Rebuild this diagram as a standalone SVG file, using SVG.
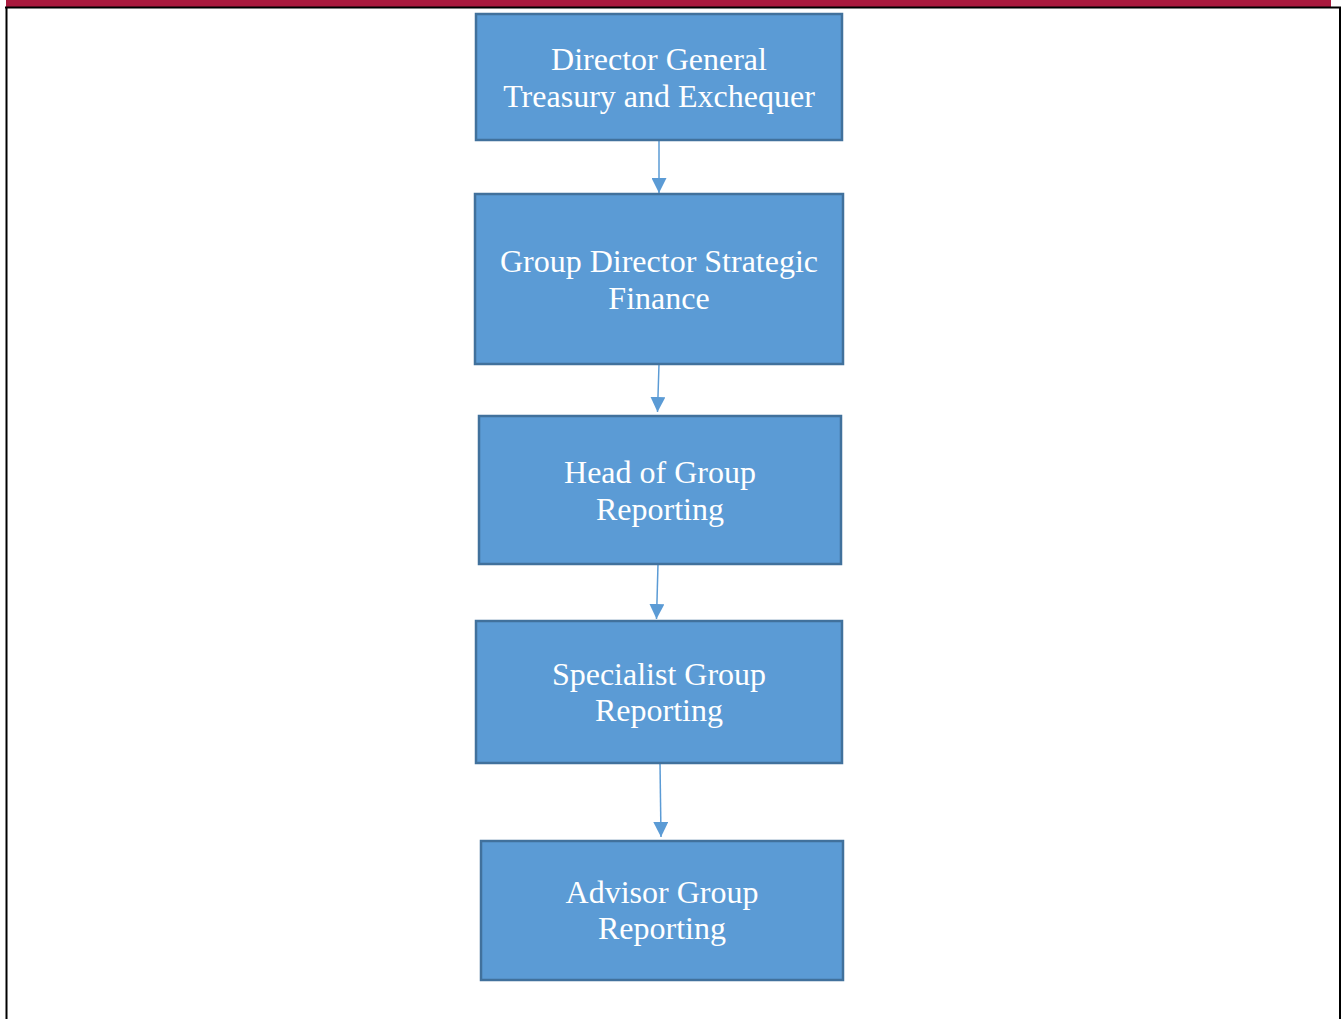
<svg xmlns="http://www.w3.org/2000/svg" width="1344" height="1019" viewBox="0 0 1344 1019">
<style>
.box{fill:#5B9BD5;stroke:#41719C;stroke-width:2.5}
.lbl{font-family:"Liberation Serif","Times New Roman",serif;font-size:32px;fill:#FFFFFF;text-anchor:middle}
.conn{stroke:#5B9BD5;stroke-width:1.5;fill:none}
</style>
<defs>
<marker id="ah" markerWidth="15" markerHeight="15" refX="15" refY="7.5" orient="auto" markerUnits="userSpaceOnUse">
<path d="M0,0 L15,7.5 L0,15 Z" fill="#5B9BD5"/>
</marker>
</defs>
<rect x="0" y="0" width="1344" height="1019" fill="#FFFFFF"/>
<g id="frame">
<rect x="6" y="0" width="1325" height="7" fill="#A91A3E"/>
<line x1="5" y1="7.5" x2="1341" y2="7.5" stroke="#000" stroke-width="2"/>
<line x1="6.5" y1="7" x2="6.5" y2="1019" stroke="#000" stroke-width="2"/>
<line x1="1340" y1="7" x2="1340" y2="1019" stroke="#000" stroke-width="2"/>
</g>
<g id="connectors">
<line class="conn" x1="659" y1="140" x2="659" y2="193" marker-end="url(#ah)"/>
<line class="conn" x1="659" y1="364" x2="657.5" y2="412" marker-end="url(#ah)"/>
<line class="conn" x1="658" y1="564" x2="656.5" y2="619" marker-end="url(#ah)"/>
<line class="conn" x1="660" y1="763" x2="661" y2="837" marker-end="url(#ah)"/>
</g>
<g id="node1">
<rect class="box" x="476" y="14" width="366" height="126"/>
<text class="lbl" x="659" y="70">Director General</text>
<text class="lbl" x="659" y="107">Treasury and Exchequer</text>
</g>
<g id="node2">
<rect class="box" x="475" y="194" width="368" height="170"/>
<text class="lbl" x="659" y="272">Group Director Strategic</text>
<text class="lbl" x="659" y="309">Finance</text>
</g>
<g id="node3">
<rect class="box" x="479" y="416" width="362" height="148"/>
<text class="lbl" x="660" y="483">Head of Group</text>
<text class="lbl" x="660" y="520">Reporting</text>
</g>
<g id="node4">
<rect class="box" x="476" y="621" width="366" height="142"/>
<text class="lbl" x="659" y="685">Specialist Group</text>
<text class="lbl" x="659" y="721">Reporting</text>
</g>
<g id="node5">
<rect class="box" x="481" y="841" width="362" height="139"/>
<text class="lbl" x="662" y="903">Advisor Group</text>
<text class="lbl" x="662" y="939">Reporting</text>
</g>
</svg>
